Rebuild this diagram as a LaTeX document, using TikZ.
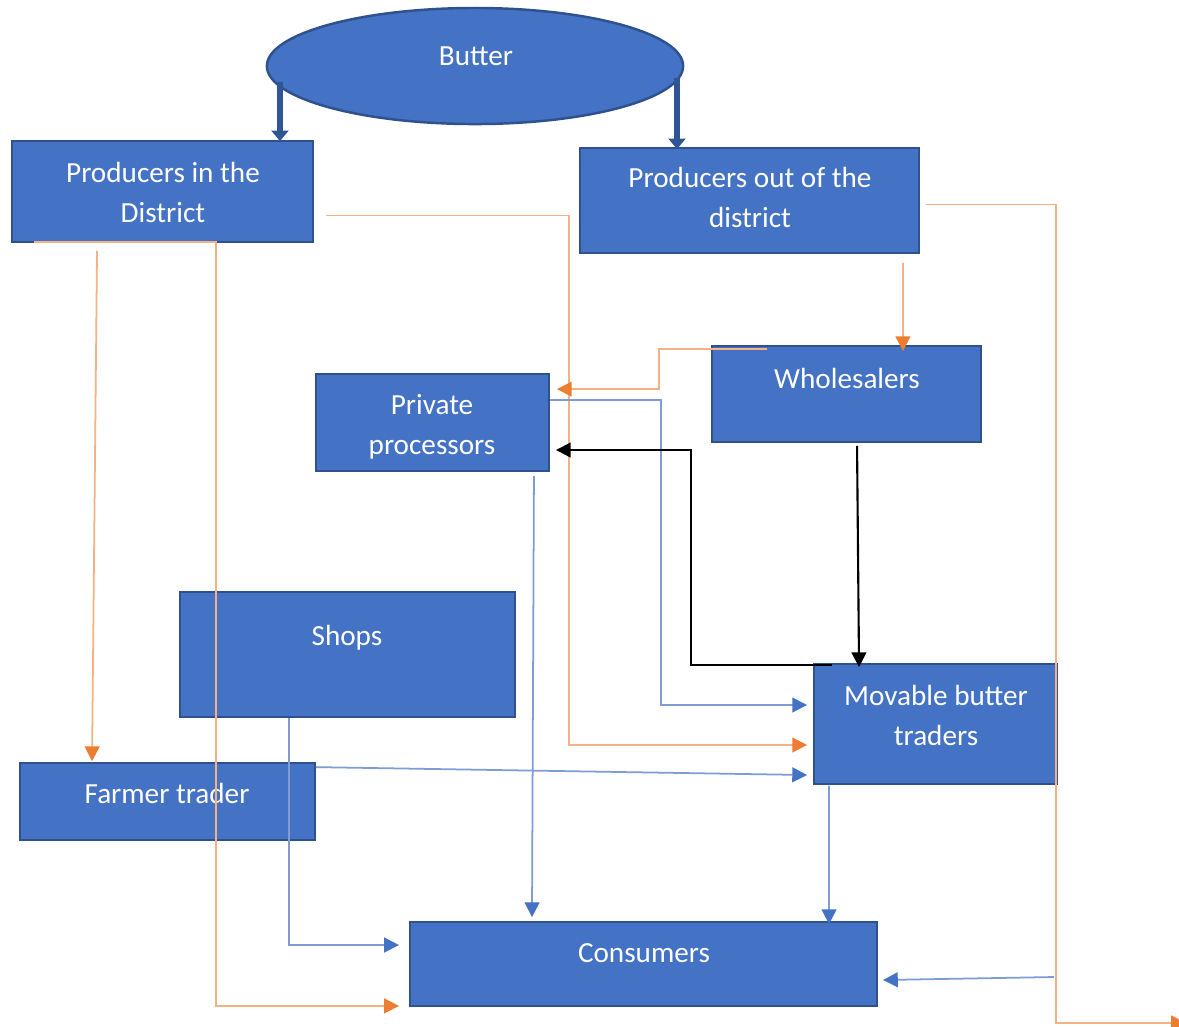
\documentclass[tikz,border=0pt]{standalone}
\usepackage{fontspec}
\setmainfont{Carlito}
\usetikzlibrary{arrows.meta,calc,shapes.geometric}
\definecolor{boxblue}{HTML}{4472C4}
\definecolor{boxedge}{HTML}{2F528F}
\definecolor{darkblue}{HTML}{2F5597}
\definecolor{oline}{HTML}{F4B183}
\definecolor{otip}{HTML}{ED7D31}
\definecolor{bline}{HTML}{7F9CD3}
\begin{document}
\begin{tikzpicture}[x=0.01cm,y=-0.01cm,
  box/.style={draw=boxedge,line width=0.5pt,fill=boxblue,inner sep=0pt},
  lbl/.style={text=white,font=\fontsize{8.3pt}{11.4pt}\selectfont,inner sep=0pt,align=center},
  ormarrow/.style={draw=oline,line width=0.5pt,-{Triangle[length=4.2pt,width=4.2pt,color=otip]}},
  blarrow/.style={draw=bline,line width=0.5pt,-{Triangle[length=4.2pt,width=4.2pt,color=boxblue]}},
  bkarrow/.style={draw=black,line width=0.6pt,-{Triangle[length=4.2pt,width=4.2pt]}},
  thickarrow/.style={draw=darkblue,line width=1.5pt,-{Triangle[length=3pt,width=4.8pt]}}]
\useasboundingbox (0,0) rectangle (1179,1026);
\fill[white] (0,0) rectangle (1179,1026);

% ellipse
\node[box,ellipse,line width=0.7pt,minimum width=4.16cm,minimum height=1.16cm] (butter) at (475,66) {};
\node[lbl] (butter-t) at (476,56) {Butter};

% boxes
\node[box,minimum width=3.01cm,minimum height=1.01cm] (pid) at (162.5,191.5) {};
\node[box,minimum width=3.39cm,minimum height=1.05cm] (pod) at (749.5,200.5) {};
\node[box,minimum width=2.69cm,minimum height=0.96cm] (whl) at (846.5,394) {};
\node[box,minimum width=2.33cm,minimum height=0.97cm] (prp) at (432.5,422.5) {};
\node[box,minimum width=3.35cm,minimum height=1.25cm] (shp) at (347.5,654.5) {};
\node[box,minimum width=2.43cm,minimum height=1.20cm] (mov) at (935.5,724) {};
\node[box,minimum width=2.95cm,minimum height=0.77cm] (frm) at (167.5,801.5) {};
\node[box,minimum width=4.67cm,minimum height=0.84cm] (con) at (643.5,964) {};

% labels
\node[lbl] (pid-t) at (163,192) {Producers in the\\District};
\node[lbl] (pod-t) at (750,197) {Producers out of the\\district};
\node[lbl] (whl-t) at (847,378) {Wholesalers};
\node[lbl] (prp-t) at (432,427) {Private\\processors};
\node[lbl] (shp-t) at (347,638) {Shops};
\node[lbl] (mov-t) at (936,715) {Movable butter\\traders};
\node[lbl] (frm-t) at (167,793) {Farmer trader};
\node[lbl] (con-t) at (644,953) {Consumers};

\coordinate (offedge) at (1186,1023);

% butter arrows
\draw[thickarrow] ($(pid.north east)+(-34,-58)$) -- ($(pid.north east)+(-34,1)$);
\draw[thickarrow] ($(pod.north west)+(98,-69)$) -- ($(pod.north west)+(98,2)$);

% orange
\draw[ormarrow] ($(pid.south west)+(86,8)$) -- ($(frm.north west)+(73,-1)$);
\draw[ormarrow] ($(pid.south west)+(23,-1)$) -- ($(pid.south west)+(205,-1)$) |- ($(con.south west)+(-10,-1)$);
\draw[ormarrow] ($(pid.east)+(12,24)$) -- ($(pid.east)+(255,24)$) |- ($(mov.west)+(-6,21)$);
\draw[ormarrow] ($(whl.north west)+(56,4)$) -- ($(whl.north west)+(-52,4)$) |- ($(prp.north east)+(7,16)$);
\draw[ormarrow] ($(pod.south east)+(-17,9)$) -- ($(whl.north east)+(-79,6)$);
\draw[ormarrow] ($(pod.east)+(6,4)$) -- ($(pod.east)+(136,4)$) |- (offedge);

% blue thin
\draw[blarrow] ($(prp.north east)+(0,27)$) -- ($(prp.north east)+(111,27)$) |- ($(mov.west)+(-6,-19)$);
\draw[blarrow] ($(prp.south east)+(-16,4)$) -- ($(con.north west)+(123,-4)$);
\draw[blarrow] ($(shp.south west)+(110,0)$) |- ($(con.west)+(-10,-19)$);
\draw[blarrow] ($(frm.north east)+(0,5)$) -- ($(mov.west)+(-6,51)$);
\draw[blarrow] ($(mov.south west)+(16,1)$) -- ($(con.north east)+(-49,3)$);
\draw[blarrow] ($(con.east)+(176,13)$) -- ($(con.east)+(5,16)$);

% black
\draw[bkarrow] ($(whl.south west)+(146,3)$) -- ($(mov.north west)+(46,4)$);
\draw[bkarrow] ($(mov.north west)+(19,2)$) -- ($(mov.north west)+(-122,2)$) |- ($(prp.east)+(6,27.5)$);
\end{tikzpicture}
\end{document}
